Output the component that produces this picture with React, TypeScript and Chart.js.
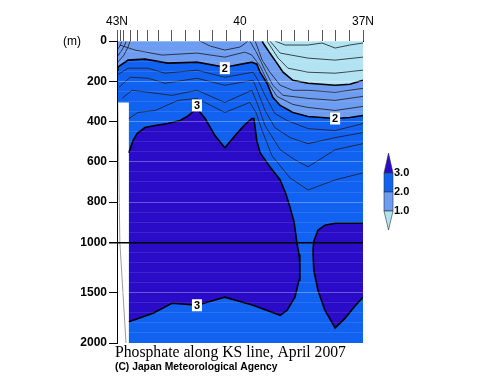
import React, { useEffect, useRef } from 'react';
import { Chart, registerables } from 'chart.js';

Chart.register(...registerables);

type Pt = [number, number]; // [latitude (°N), depth (m)]

// ---- axes ----
const latTicks = [43, 42.92, 42.83, 42.67, 42.5, 42.25, 42, 41.67, 41.33, 41, 40.67, 40.33, 40, 39.67, 39.33, 39, 38.67, 38.33, 38, 37.67, 37.33, 37];
const latLabels: Record<string, string> = { '43': '43N', '40': '40', '37': '37N' };
const depthTicks = [0, 200, 400, 600, 800, 1000, 1500, 2000];
const depthGridMinor = [50, 100, 150, 250, 300, 350, 450, 500, 550, 650, 700, 750, 850, 900, 950, 1100, 1200, 1300, 1400, 1600, 1700, 1800, 1900];
const legendLevels = ['3.0', '2.0', '1.0'];

// ---- data coverage (white strip = no data) ----
const coverage: Pt[] = [[43.0, 305], [42.71, 305], [42.7099, 2000], [37.0, 2000]];

// ---- thick contours ----
const contour2: Pt[] = [[43.0, 145], [42.98, 130], [42.73, 95], [42.32, 90], [41.76, 110], [41.05, 105], [40.37, 130], [39.71, 105], [39.59, 115], [39.51, 155], [39.34, 210], [39.2, 280], [39.02, 320], [38.71, 355], [38.34, 375], [37.68, 385], [37.32, 380], [37.0, 370]];
const contour1: Pt[] = [[39.46, 0], [39.42, 15], [39.27, 60], [39.1, 110], [38.95, 155], [38.71, 195], [38.34, 210], [37.68, 220], [37.32, 215], [37.0, 195]];
const contour3aTop: Pt[] = [[42.71, 555], [42.61, 495], [42.51, 460], [42.32, 430], [42.07, 420], [41.76, 410], [41.46, 395], [41.29, 375], [41.05, 335], [40.85, 385], [40.61, 470], [40.37, 530], [40.12, 470], [39.88, 415], [39.71, 385], [39.66, 385], [39.59, 495], [39.51, 555], [39.27, 625], [39.02, 690], [38.88, 760], [38.78, 825], [38.68, 900], [38.61, 1010], [38.56, 1120], [38.54, 1200]];
const contour3aBottom: Pt[] = [[42.71, 1790], [42.12, 1705], [41.66, 1605], [41.34, 1615], [41.05, 1625], [40.37, 1545], [39.68, 1625], [39.02, 1725], [38.85, 1675], [38.66, 1545], [38.56, 1375], [38.54, 1200]];
const contour3bTop: Pt[] = [[38.22, 1080], [38.2, 995], [38.1, 940], [37.93, 915], [37.68, 905], [37.0, 905]];
const contour3bBottom: Pt[] = [[38.22, 1080], [38.2, 1280], [38.1, 1475], [37.93, 1675], [37.68, 1850], [37.44, 1755], [37.2, 1635], [37.0, 1545]];

// ---- thin contours ----
const thin225: Pt[] = [[43.0, 170], [42.73, 135], [42.24, 135], [41.83, 160], [41.05, 145], [40.37, 180], [39.68, 155], [39.56, 195], [39.39, 270], [39.15, 360], [38.85, 395], [38.34, 435], [37.68, 445], [37.0, 410]];
const thin250: Pt[] = [[42.95, 230], [42.68, 180], [42.24, 185], [41.83, 210], [41.05, 185], [40.37, 220], [39.68, 195], [39.56, 255], [39.39, 345], [39.15, 430], [38.78, 480], [38.34, 510], [37.68, 480], [37.0, 455]];
const thin275: Pt[] = [[42.88, 285], [42.63, 245], [42.24, 255], [41.66, 270], [41.05, 245], [40.37, 305], [39.71, 245], [39.56, 320], [39.39, 420], [39.02, 540], [38.66, 590], [38.34, 625], [37.68, 540], [37.0, 510]];
const thin290: Pt[] = [[42.71, 385], [42.49, 355], [42.07, 345], [41.51, 295], [41.05, 285], [40.37, 355], [39.76, 305], [39.61, 355], [39.46, 445], [39.22, 570], [38.78, 680], [38.34, 740], [37.68, 690], [37.0, 655]];
const thin125: Pt[] = [[39.63, 0], [39.46, 95], [39.27, 155], [39.02, 220], [38.71, 245], [38.34, 245], [37.68, 255], [37.0, 235]];
const thin150: Pt[] = [[39.76, 0], [39.59, 60], [39.39, 145], [39.2, 220], [38.95, 270], [38.34, 285], [37.68, 295], [37.0, 275]];
const thin175: Pt[] = [[42.93, 20], [42.56, 45], [41.9, 70], [41.05, 60], [40.37, 80], [39.88, 55], [39.71, 70], [39.51, 125], [39.32, 205], [39.1, 275], [38.71, 315], [38.34, 330], [37.68, 345], [37.0, 325]];
const thinLoop: Pt[] = [[40.98, 0], [40.73, 25], [40.37, 45], [40.0, 30], [39.8, 0]];
const thinArc1: Pt[] = [[43.0, 45], [42.93, 25], [42.88, 0]];
const thinArc2: Pt[] = [[43.0, 80], [42.88, 45], [42.8, 15], [42.78, 0]];
const thinArc3: Pt[] = [[43.0, 110], [42.83, 70], [42.73, 30], [42.68, 0]];
const thin075: Pt[] = [[39.34, 0], [39.07, 85], [38.83, 135], [38.34, 155], [37.68, 160], [37.0, 145]];
const thin050: Pt[] = [[39.27, 0], [39.02, 60], [38.34, 85], [37.68, 95], [37.0, 80]];
const thin025: Pt[] = [[39.15, 0], [38.9, 20], [38.34, 20], [38.0, 10], [37.68, 35], [37.32, 20], [37.0, 10]];
const bottomLine: Pt[] = [[42.98, 305], [42.93, 1000], [42.78, 2000]];

// ---- contour labels ----
const labelLat = [40.37, 37.68, 41.05, 41.05];
const labelDepth = [135, 385, 320, 1625];
const labelText = ['2', '2', '3', '3'];

const COLORS = { dark: '#2a0cc8', mid: '#1262f2', light: '#6e9cf0', cyan: '#b2e3f3' };

const toV = (d: number) => (d <= 1000 ? d : 1000 + (d - 1000) / 2);
const fromV = (v: number) => (v <= 1000 ? v : 1000 + (v - 1000) * 2);
const xy = (pts: Pt[]) => pts.map(([lat, d]) => ({ x: lat, y: toV(d) }));
const majorV = new Set(depthTicks.map(toV));

const overlayPlugin = {
  id: 'overlay',
  afterDraw(chart: any) {
    const { ctx, scales } = chart;
    ctx.save();
    // contour labels
    ctx.font = 'bold 11px "Liberation Sans", Arial, sans-serif';
    ctx.textAlign = 'center';
    ctx.textBaseline = 'middle';
    labelText.forEach((t, i) => {
      const x = scales.x.getPixelForValue(labelLat[i]);
      const y = scales.y.getPixelForValue(toV(labelDepth[i]));
      ctx.fillStyle = '#fff';
      ctx.fillRect(x - 5, y - 6, 10, 12);
      ctx.fillStyle = '#000';
      ctx.fillText(t, x, y + 0.5);
    });
    // (m)
    ctx.font = '12px "Liberation Sans", Arial, sans-serif';
    ctx.textAlign = 'left';
    ctx.fillText('(m)', 63, 42);
    // colour bar
    const bx = 384, bw = 9;
    const segs = [173, 192, 211];
    ctx.strokeStyle = '#333';
    ctx.lineWidth = 0.6;
    ctx.fillStyle = COLORS.dark;
    ctx.beginPath(); ctx.moveTo(bx + bw / 2, 153); ctx.lineTo(bx + bw, segs[0]); ctx.lineTo(bx, segs[0]); ctx.closePath(); ctx.fill(); ctx.stroke();
    ctx.fillStyle = COLORS.mid; ctx.fillRect(bx, segs[0], bw, segs[1] - segs[0]); ctx.strokeRect(bx, segs[0], bw, segs[1] - segs[0]);
    ctx.fillStyle = COLORS.light; ctx.fillRect(bx, segs[1], bw, segs[2] - segs[1]); ctx.strokeRect(bx, segs[1], bw, segs[2] - segs[1]);
    ctx.fillStyle = COLORS.cyan;
    ctx.beginPath(); ctx.moveTo(bx, segs[2]); ctx.lineTo(bx + bw, segs[2]); ctx.lineTo(bx + bw / 2, 230); ctx.closePath(); ctx.fill(); ctx.stroke();
    ctx.fillStyle = '#000';
    ctx.font = 'bold 11px "Liberation Sans", Arial, sans-serif';
    ctx.textBaseline = 'middle';
    legendLevels.forEach((t, i) => ctx.fillText(t, bx + bw + 1, segs[i]));
    // titles
    ctx.textBaseline = 'alphabetic';
    ctx.font = '15.7px "Liberation Serif", "Times New Roman", serif';
    ctx.fillText('Phosphate along KS line, April 2007', 115, 357);
    ctx.font = 'bold 10.3px "Liberation Sans", Arial, sans-serif';
    ctx.fillText('(C) Japan Meteorological Agency', 115, 370);
    ctx.restore();
  },
};

export default function App() {
  const ref = useRef<HTMLCanvasElement | null>(null);
  useEffect(() => {
    document.body.style.margin = '0';
    const canvas = ref.current;
    if (!canvas) return;
    const thick = (pts: Pt[], extra: any = {}) => ({
      data: xy(pts), borderColor: '#000', borderWidth: 1.6, pointRadius: 0, fill: false, order: 5, ...extra,
    });
    const thin = (pts: Pt[]) => ({
      data: xy(pts), borderColor: '#1c1c1c', borderWidth: 0.8, pointRadius: 0, fill: false, order: 10,
    });
    const datasets: any[] = [
      { data: xy(coverage), borderWidth: 0, pointRadius: 0, fill: { value: 0 }, backgroundColor: COLORS.mid, order: 100 },
      thick(contour2, { fill: { value: 0 }, backgroundColor: COLORS.light, order: 90 }),
      thick(contour1, { fill: { value: 0 }, backgroundColor: COLORS.cyan, order: 80 }),
      thick(contour3aTop),
      thick(contour3aBottom, { fill: 3, backgroundColor: COLORS.dark, order: 70 }),
      thick(contour3bTop),
      thick(contour3bBottom, { fill: 5, backgroundColor: COLORS.dark, order: 70 }),
      thin(thin225), thin(thin250), thin(thin275), thin(thin290),
      thin(thin125), thin(thin150), thin(thin175), thin(thinLoop),
      thin(thinArc1), thin(thinArc2), thin(thinArc3),
      thin(thin075), thin(thin050), thin(thin025),
      { data: xy(bottomLine), borderColor: '#9a9a9a', borderWidth: 1, pointRadius: 0, fill: false, order: 20 },
    ];
    const axisFont = { family: '"Liberation Sans", Arial, sans-serif', size: 12 };
    const isMajor = (c: any) => c.tick && majorV.has(c.tick.value);
    const chart = new Chart(canvas, {
      type: 'line',
      data: { datasets },
      options: {
        animation: false,
        responsive: false,
        devicePixelRatio: 1,
        parsing: false,
        layout: { padding: { left: 0, top: 0, right: 137, bottom: 44 } },
        plugins: { legend: { display: false }, tooltip: { enabled: false }, title: { display: false } },
        elements: { line: { tension: 0 } },
        scales: {
          x: {
            type: 'linear', position: 'top', reverse: true, min: 37, max: 43,
            afterBuildTicks: (s: any) => { s.ticks = latTicks.map((v) => ({ value: v })); },
            afterFit: (s: any) => { s.height = 41; },
            ticks: {
              autoSkip: false, maxRotation: 0, padding: 1, color: '#000', font: axisFont,
              callback: (v: any) => latLabels[String(Math.round(Number(v) * 100) / 100)] ?? '',
            },
            grid: { drawOnChartArea: false, tickLength: 11, tickColor: '#555' },
            border: { color: '#000' },
          },
          y: {
            type: 'linear', reverse: true, min: 0, max: 1500,
            afterBuildTicks: (s: any) => {
              const vals = [...depthTicks, ...depthGridMinor].map(toV).sort((a, b) => a - b);
              s.ticks = vals.map((v) => ({ value: v }));
            },
            afterFit: (s: any) => { s.width = 117; },
            ticks: {
              autoSkip: false, padding: 2, color: '#000', font: { ...axisFont, weight: 'bold' },
              callback: (v: any) => (majorV.has(Number(v)) ? String(Math.round(fromV(Number(v)))) : ''),
            },
            grid: {
              z: 1,
              color: (c: any) => (c.tick && c.tick.value === 1000 ? '#000' : isMajor(c) ? 'rgba(255,255,255,0.3)' : 'rgba(255,255,255,0.1)'),
              lineWidth: (c: any) => (c.tick && c.tick.value === 1000 ? 1.5 : 1),
              tickColor: (c: any) => (isMajor(c) ? '#000' : 'rgba(0,0,0,0)'),
              tickLength: 8,
            },
            border: { color: '#000', z: 1 },
          },
        },
      } as any,
      plugins: [overlayPlugin],
    });
    return () => chart.destroy();
  }, []);
  return <canvas ref={ref} width={500} height={387} style={{ display: 'block' }} />;
}
